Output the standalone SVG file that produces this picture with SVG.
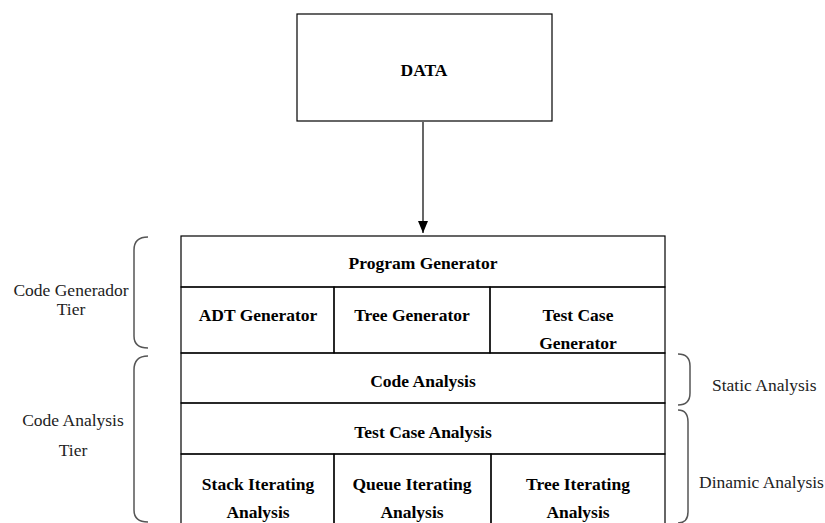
<svg xmlns="http://www.w3.org/2000/svg" width="825" height="523" viewBox="0 0 825 523">
<defs>
<marker id="arr" markerWidth="12" markerHeight="10" refX="12" refY="5" orient="auto" markerUnits="userSpaceOnUse" viewBox="0 0 12 10">
<path d="M0,0 L12,5 L0,10 Z" fill="#000"/>
</marker>
</defs>
<style>
.box{fill:#fff;stroke:#000;stroke-width:1.2}
.cell{fill:none;stroke:#000;stroke-width:1.2}
.b{font-family:"Liberation Serif","Times New Roman",serif;font-weight:bold;font-size:17.5px;fill:#000;text-anchor:middle}
.n{font-family:"Liberation Serif","Times New Roman",serif;font-size:17.5px;fill:#222}
.br{fill:none;stroke:#555;stroke-width:1.5}
</style>
<rect width="825" height="523" fill="#fff"/>
<g id="data">
<rect class="box" x="297" y="14" width="255" height="107"/>
<text class="b" x="424" y="76">DATA</text>
</g>
<g id="connectors">
<line x1="423" y1="122" x2="423" y2="233" stroke="#000" stroke-width="1.2" marker-end="url(#arr)"/>
</g>
<g id="program-generator">
<rect class="cell" x="181" y="236" width="484" height="51"/>
<text class="b" x="423" y="269">Program Generator</text>
</g>
<g id="adt-generator">
<rect class="cell" x="181" y="287" width="153" height="66"/>
<text class="b" x="258" y="321">ADT Generator</text>
</g>
<g id="tree-generator">
<rect class="cell" x="334" y="287" width="156" height="66"/>
<text class="b" x="412" y="321">Tree Generator</text>
</g>
<g id="test-case-generator">
<rect class="cell" x="490" y="287" width="175" height="66"/>
<text class="b" x="578" y="321">Test Case</text>
<text class="b" x="578" y="349">Generator</text>
</g>
<g id="code-analysis">
<rect class="cell" x="181" y="353" width="484" height="50"/>
<text class="b" x="423" y="387">Code Analysis</text>
</g>
<g id="test-case-analysis">
<rect class="cell" x="181" y="403" width="484" height="51"/>
<text class="b" x="423" y="438">Test Case Analysis</text>
</g>
<g id="stack-iterating">
<rect class="cell" x="181" y="454" width="153" height="80"/>
<text class="b" x="258" y="490">Stack Iterating</text>
<text class="b" x="258" y="518">Analysis</text>
</g>
<g id="queue-iterating">
<rect class="cell" x="334" y="454" width="157" height="80"/>
<text class="b" x="412" y="490">Queue Iterating</text>
<text class="b" x="412" y="518">Analysis</text>
</g>
<g id="tree-iterating">
<rect class="cell" x="491" y="454" width="174" height="80"/>
<text class="b" x="578" y="490">Tree Iterating</text>
<text class="b" x="578" y="518">Analysis</text>
</g>
<g id="code-generador-tier">
<path class="br" d="M148,237 C139,237 134,241 134,250 L134,336 C134,344 139,348 148,348"/>
<text class="n" x="71" y="296" text-anchor="middle">Code Generador</text>
<text class="n" x="71" y="315" text-anchor="middle">Tier</text>
</g>
<g id="code-analysis-tier">
<path class="br" d="M148,356 C139,356 134,360 134,370 L134,510 C134,518 139,522 148,522"/>
<text class="n" x="73" y="426" text-anchor="middle">Code Analysis</text>
<text class="n" x="73" y="456" text-anchor="middle">Tier</text>
</g>
<g id="static-analysis">
<path class="br" d="M678,354 C686,354 690,358 690,366 L690,393 C690,401 686,405 678,405"/>
<text class="n" x="712" y="391">Static Analysis</text>
</g>
<g id="dinamic-analysis">
<path class="br" d="M678,410 C685,410 688,414 688,422 L688,512 C688,519 685,523 678,523"/>
<text class="n" x="699" y="488">Dinamic Analysis</text>
</g>
</svg>
